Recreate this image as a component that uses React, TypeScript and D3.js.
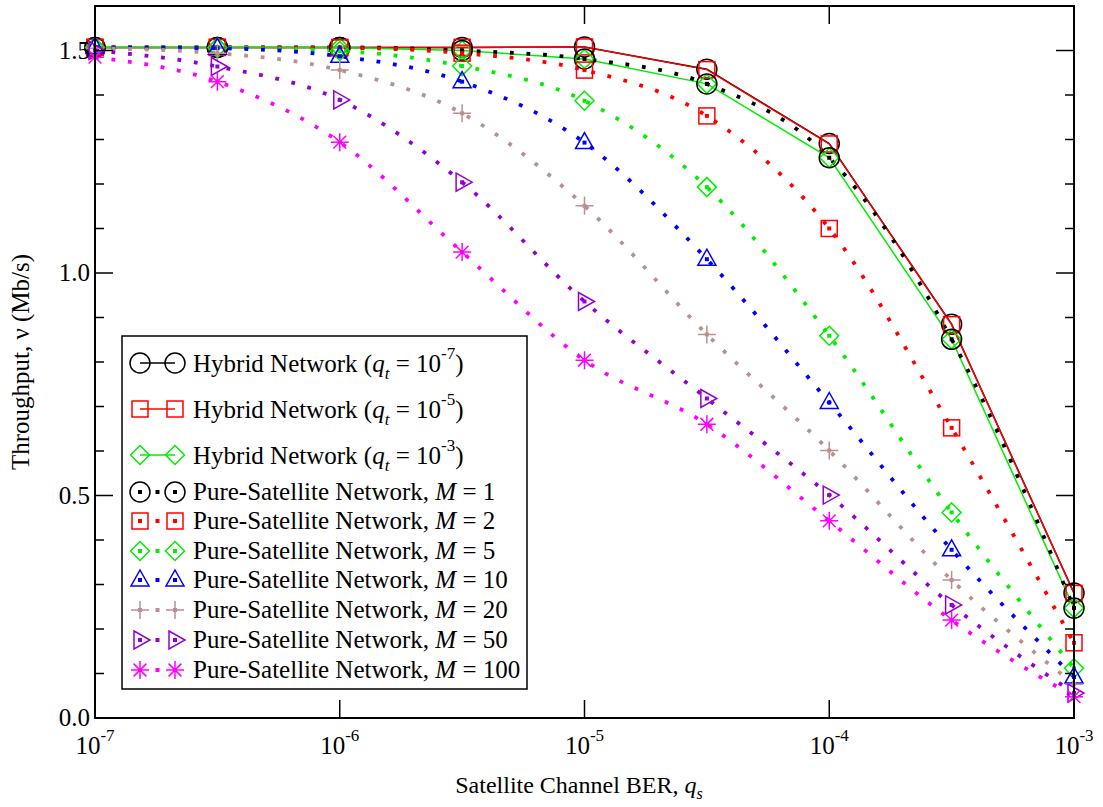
import React from 'react';
import * as d3 from 'd3';

// Satellite channel BER (x) at half-decade steps
const qsValues = [1e-7, 3.162e-7, 1e-6, 3.162e-6, 1e-5, 3.162e-5, 1e-4, 3.162e-4, 1e-3];

// Throughput (Mb/s)
const hybridQt7 = [1.507, 1.507, 1.507, 1.507, 1.508, 1.458, 1.291, 0.885, 0.281];
const hybridQt5 = [1.507, 1.507, 1.507, 1.507, 1.508, 1.457, 1.290, 0.884, 0.280];
const hybridQt3 = [1.507, 1.507, 1.507, 1.500, 1.481, 1.425, 1.259, 0.851, 0.247];
const pureM1 = [1.507, 1.507, 1.507, 1.500, 1.481, 1.425, 1.259, 0.851, 0.247];
const pureM2 = [1.507, 1.507, 1.506, 1.494, 1.456, 1.353, 1.100, 0.652, 0.169];
const pureM5 = [1.507, 1.506, 1.499, 1.465, 1.387, 1.193, 0.859, 0.462, 0.112];
const pureM10 = [1.507, 1.505, 1.487, 1.430, 1.293, 1.031, 0.709, 0.378, 0.092];
const pureM20 = [1.505, 1.494, 1.456, 1.359, 1.151, 0.862, 0.601, 0.310, 0.076];
const pureM50 = [1.500, 1.464, 1.389, 1.204, 0.936, 0.718, 0.501, 0.254, 0.056];
const pureM100 = [1.485, 1.430, 1.294, 1.047, 0.804, 0.660, 0.443, 0.220, 0.048];

const xTickValues = [1e-7, 1e-6, 1e-5, 1e-4, 1e-3];
const xTickExponents = ['-7', '-6', '-5', '-4', '-3'];
const yMajorTicks = [0, 0.5, 1.0, 1.5];
const yMinorTicks = [0.1, 0.2, 0.3, 0.4, 0.6, 0.7, 0.8, 0.9, 1.1, 1.2, 1.3, 1.4, 1.6];

const hybridLabels = ['-7', '-5', '-3'];
const pureLabels = ['1', '2', '5', '10', '20', '50', '100'];

type Marker = 'circle' | 'square' | 'diamond' | 'triUp' | 'plus' | 'triRight' | 'star';
interface Series {
  values: number[];
  color: string;
  marker: Marker;
  kind: 'hybrid' | 'pure';
  label: string;
}

const series: Series[] = [
  { values: hybridQt7, color: '#000000', marker: 'circle', kind: 'hybrid', label: hybridLabels[0] },
  { values: hybridQt5, color: '#ff0000', marker: 'square', kind: 'hybrid', label: hybridLabels[1] },
  { values: hybridQt3, color: '#00ee00', marker: 'diamond', kind: 'hybrid', label: hybridLabels[2] },
  { values: pureM1, color: '#000000', marker: 'circle', kind: 'pure', label: pureLabels[0] },
  { values: pureM2, color: '#ff0000', marker: 'square', kind: 'pure', label: pureLabels[1] },
  { values: pureM5, color: '#00ee00', marker: 'diamond', kind: 'pure', label: pureLabels[2] },
  { values: pureM10, color: '#0000ff', marker: 'triUp', kind: 'pure', label: pureLabels[3] },
  { values: pureM20, color: '#bc8f8f', marker: 'plus', kind: 'pure', label: pureLabels[4] },
  { values: pureM50, color: '#9400d3', marker: 'triRight', kind: 'pure', label: pureLabels[5] },
  { values: pureM100, color: '#ff00ff', marker: 'star', kind: 'pure', label: pureLabels[6] },
];

const W = 1103;
const H = 807;
const L = 95, R = 1074, T = 6, B = 718;
const FONT = '"Liberation Serif", "Times New Roman", serif';

const x = d3.scaleLog().domain([1e-7, 1e-3]).range([L, R]);
const y = d3.scaleLinear().domain([0, 1.6]).range([B, T]);

function MarkerShape({ type, cx, cy, color, dot }: { type: Marker; cx: number; cy: number; color: string; dot: boolean }) {
  const sw = 1.5;
  let shape: React.ReactNode = null;
  const common = { fill: 'none', stroke: color, strokeWidth: sw };
  switch (type) {
    case 'circle':
      shape = <circle cx={cx} cy={cy} r={10} {...common} />;
      break;
    case 'square':
      shape = <rect x={cx - 8} y={cy - 8} width={16} height={16} {...common} />;
      break;
    case 'diamond':
      shape = <path d={`M${cx},${cy - 9.5}L${cx + 9.5},${cy}L${cx},${cy + 9.5}L${cx - 9.5},${cy}Z`} {...common} />;
      break;
    case 'triUp':
      shape = <path d={`M${cx},${cy - 10}L${cx + 9},${cy + 6}L${cx - 9},${cy + 6}Z`} {...common} />;
      break;
    case 'triRight':
      shape = <path d={`M${cx - 6},${cy - 9}L${cx + 10},${cy}L${cx - 6},${cy + 9}Z`} {...common} />;
      break;
    case 'plus':
      shape = <path d={`M${cx - 9},${cy}H${cx + 9}M${cx},${cy - 9}V${cy + 9}`} {...common} />;
      break;
    case 'star': {
      const a = 9, b = 6.4;
      shape = (
        <path
          d={`M${cx - a},${cy}H${cx + a}M${cx},${cy - a}V${cy + a}M${cx - b},${cy - b}L${cx + b},${cy + b}M${cx - b},${cy + b}L${cx + b},${cy - b}`}
          {...common}
        />
      );
      break;
    }
  }
  return (
    <g>
      {shape}
      {dot && <rect x={cx - 2} y={cy - 2} width={4} height={4} fill={color} />}
    </g>
  );
}

export default function App() {
  const legendRows = [363, 409, 455, 492, 521, 551, 580, 610, 640, 670];
  const sx1 = 140, sx2 = 175, tx = 193;
  const fs = 25;

  return (
    <svg
      width={W}
      height={H}
      viewBox={`0 0 ${W} ${H}`}
      style={{ position: 'absolute', left: 0, top: 0, background: '#fff', fontFamily: FONT }}
    >
      <rect x={0} y={0} width={W} height={H} fill="#fff" />

      {/* series lines */}
      {series.map((s, i) => {
        const line = d3
          .line<number>()
          .x((_, j) => x(qsValues[j]))
          .y((d) => y(d))
          .curve(s.kind === 'hybrid' ? d3.curveLinear : d3.curveMonotoneX);
        return s.kind === 'hybrid' ? (
          <path key={`l${i}`} d={line(s.values) || ''} fill="none" stroke={s.color} strokeWidth={1.5} />
        ) : (
          <path
            key={`l${i}`}
            d={line(s.values) || ''}
            fill="none"
            stroke={s.color}
            strokeWidth={3.8}
            strokeDasharray="3.8 12.8"
          />
        );
      })}

      {/* markers */}
      {series.map((s, i) => (
        <g key={`m${i}`}>
          {s.values.map((v, j) => (
            <MarkerShape key={j} type={s.marker} cx={x(qsValues[j])} cy={y(v)} color={s.color} dot={s.kind === 'pure'} />
          ))}
        </g>
      ))}

      {/* frame */}
      <rect x={L} y={T} width={R - L} height={B - T} fill="none" stroke="#000" strokeWidth={2} />

      {/* x ticks */}
      {xTickValues.map((v, i) => (
        <g key={`xt${i}`}>
          <line x1={x(v)} x2={x(v)} y1={B} y2={B - 18} stroke="#000" strokeWidth={1.5} />
          <line x1={x(v)} x2={x(v)} y1={T} y2={T + 18} stroke="#000" strokeWidth={1.5} />
          <text x={x(v)} y={754} fontSize={25} textAnchor="middle" fill="#000">
            10<tspan fontSize={17} dy={-13}>{xTickExponents[i]}</tspan>
          </text>
        </g>
      ))}

      {/* y ticks */}
      {yMajorTicks.map((v, i) => (
        <g key={`yt${i}`}>
          <line x1={L} x2={L + 18} y1={y(v)} y2={y(v)} stroke="#000" strokeWidth={1.5} />
          <line x1={R} x2={R - 18} y1={y(v)} y2={y(v)} stroke="#000" strokeWidth={1.5} />
          <text x={90} y={y(v) + 8} fontSize={25} textAnchor="end" fill="#000">
            {d3.format('.1f')(v)}
          </text>
        </g>
      ))}
      {yMinorTicks.map((v, i) => (
        <g key={`ym${i}`}>
          <line x1={L} x2={L + 9} y1={y(v)} y2={y(v)} stroke="#000" strokeWidth={1.5} />
          <line x1={R} x2={R - 9} y1={y(v)} y2={y(v)} stroke="#000" strokeWidth={1.5} />
        </g>
      ))}

      {/* axis titles */}
      <text x={579} y={793} fontSize={24} textAnchor="middle" fill="#000">
        Satellite Channel BER, <tspan fontStyle="italic">q</tspan>
        <tspan fontSize={16} fontStyle="italic" dy={6}>s</tspan>
      </text>
      <text transform={`translate(29,${(T + B) / 2}) rotate(-90)`} fontSize={25} textAnchor="middle" fill="#000">
        Throughput, ν (Mb/s)
      </text>

      {/* legend */}
      <rect x={122} y={336} width={405} height={353} fill="#fff" stroke="#000" strokeWidth={1.5} />
      {series.map((s, i) => {
        const cy = legendRows[i];
        return (
          <g key={`lg${i}`}>
            {s.kind === 'hybrid' ? (
              <line x1={sx1} x2={sx2} y1={cy} y2={cy} stroke={s.color} strokeWidth={1.5} />
            ) : (
              <rect x={(sx1 + sx2) / 2 - 2} y={cy - 2} width={4} height={4} fill={s.color} />
            )}
            <MarkerShape type={s.marker} cx={sx1} cy={cy} color={s.color} dot={s.kind === 'pure'} />
            <MarkerShape type={s.marker} cx={sx2} cy={cy} color={s.color} dot={s.kind === 'pure'} />
            {s.kind === 'hybrid' ? (
              <text x={tx} y={cy + 9} fontSize={fs} fill="#000">
                Hybrid Network (<tspan fontStyle="italic">q</tspan>
                <tspan fontSize={17} fontStyle="italic" dy={7}>t</tspan>
                <tspan dy={-7}> = 10</tspan>
                <tspan fontSize={17} dy={-13}>{s.label}</tspan>
                <tspan dy={13}>)</tspan>
              </text>
            ) : (
              <text x={tx} y={cy + 8} fontSize={fs} fill="#000">
                Pure-Satellite Network, <tspan fontStyle="italic">M</tspan> = {s.label}
              </text>
            )}
          </g>
        );
      })}
    </svg>
  );
}
